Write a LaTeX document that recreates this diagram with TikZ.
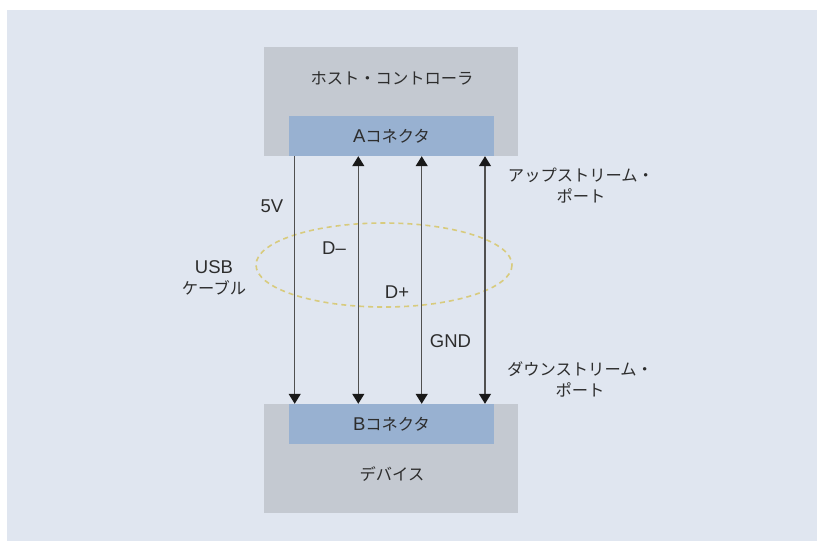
\documentclass[tikz,border=0pt]{standalone}
\usepackage{fontspec}
\setmainfont{Liberation Sans}
\newfontfamily\jp{Noto Sans CJK JP}[Scale=0.88]
\usetikzlibrary{arrows.meta}
\definecolor{panel}{RGB}{224,230,240}
\definecolor{boxgray}{RGB}{196,201,209}
\definecolor{conblue}{RGB}{152,177,209}
\definecolor{txt}{RGB}{45,45,45}
\definecolor{cablecol}{RGB}{216,203,125}
\definecolor{wire}{RGB}{80,80,80}
\begin{document}
\begin{tikzpicture}[x=1pt,y=-1pt,
  font=\fontsize{18.5}{21}\selectfont,
  outerbox/.style={fill=boxgray,draw=none,minimum width=254pt,minimum height=109pt,inner sep=0pt},
  conbox/.style={fill=conblue,draw=none,minimum width=205pt,minimum height=40pt,inner sep=0pt,text=txt},
  lbl/.style={text=txt,inner sep=0pt,align=center},
  wirestyle/.style={draw=wire,line width=1.3pt},
  tip/.tip={Triangle[width=12pt,length=10pt,color=black!90]},
  cable/.style={draw=cablecol,line width=1.6pt,dash pattern=on 5pt off 4pt}]
\useasboundingbox (0,0) rectangle (817,541);
\fill[white] (0,0) rectangle (817,541);
\fill[panel] (7,10) rectangle (817,541);
% boxes
\node[outerbox] (host) at (391,101.5) {};
\node[lbl] (hosttext) at (392,78) {\jp ホスト・コントローラ};
\node[conbox] (A) at (391.5,136) {A\jp コネクタ};
\node[outerbox] (dev) at (391,458.5) {};
\node[conbox] (B) at (391.5,424) {B\jp コネクタ};
\node[lbl] (devtext) at (392,474) {\jp デバイス};
% cable
\draw[cable] (384,265) ellipse [x radius=128, y radius=42];
% wires
\coordinate (w1) at (294.7,0);
\coordinate (w2) at (358.3,0);
\coordinate (w3) at (421.7,0);
\coordinate (w4) at (485,0);
\draw[wirestyle,-tip] (w1 |- A.south) -- (w1 |- B.north);
\draw[wirestyle,tip-tip] (w2 |- A.south) -- (w2 |- B.north);
\draw[wirestyle,tip-tip] (w3 |- A.south) -- (w3 |- B.north);
\draw[wirestyle,tip-tip] (w4 |- A.south) -- (w4 |- B.north);
% labels
\node[lbl] (v5) at (272,206) {5V};
\node[lbl] (dm) at (334,248) {D–};
\node[lbl] (dp) at (397,292) {D+};
\node[lbl] (gnd) at (450.5,341) {GND};
\node[lbl] (usb) at (214,277.5) {USB\\\jp ケーブル};
\node[lbl] (up) at (581,186) {\jp アップストリーム・\\\jp ポート};
\node[lbl] (down) at (580,379.5) {\jp ダウンストリーム・\\\jp ポート};
\end{tikzpicture}
\end{document}
